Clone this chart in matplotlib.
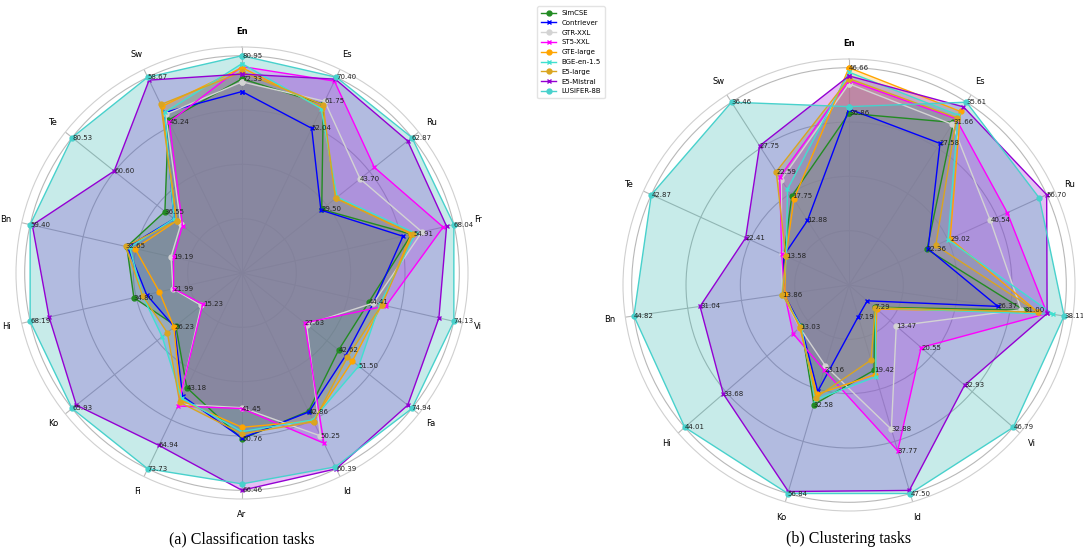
import numpy as np
import matplotlib
matplotlib.use("Agg")
import matplotlib.pyplot as plt

models = ["SimCSE", "Contriever", "GTR-XXL", "ST5-XXL", "GTE-large",
          "BGE-en-1.5", "E5-large", "E5-Mistral", "LUSIFER-8B"]
colors = ["forestgreen", "blue", "lightgray", "magenta", "orange",
          "turquoise", "goldenrod", "darkviolet", "mediumturquoise"]
fill_colors = ["forestgreen", "blue", "lightgray", "magenta", "orange",
               "turquoise", "goldenrod", "darkviolet", "lightseagreen"]
markers = ["o", "x", "o", "x", "o", "x", "o", "x", "o"]

# (a) classification
cls_langs = ["En", "Es", "Ru", "Fr", "Vi", "Fa", "Id", "Ar", "Fi", "Ko", "Hi", "Bn", "Te", "Sw"]
cls_simcse = [72.33, 60.70, 29.50, 54.43, 44.41, 42.62, 42.60, 50.76, 43.18, 25.70, 34.80, 32.30, 36.55, 45.80]
cls_contriever = [67.60, 52.04, 29.20, 51.70, 46.00, 45.70, 42.86, 50.50, 46.40, 26.23, 30.70, 32.10, 32.20, 48.10]
cls_gtr = [71.20, 61.75, 43.70, 57.80, 46.00, 28.50, 50.25, 41.20, 49.40, 15.80, 22.20, 19.90, 29.00, 47.50]
cls_st5 = [76.90, 69.00, 49.00, 64.60, 50.40, 27.63, 52.50, 41.45, 50.10, 15.23, 21.99, 19.19, 28.20, 45.24]
cls_gte = [76.50, 59.50, 34.90, 54.40, 48.90, 48.70, 45.60, 47.20, 47.90, 26.40, 26.60, 30.00, 31.00, 49.90]
cls_bge = [78.00, 59.10, 35.20, 55.80, 48.20, 51.50, 45.30, 48.50, 47.20, 31.00, 32.00, 31.50, 32.20, 48.10]
cls_e5 = [74.90, 60.50, 34.60, 54.91, 48.90, 46.50, 45.90, 49.20, 48.70, 29.00, 32.00, 32.65, 31.00, 50.50]
cls_mistral = [74.10, 69.70, 61.30, 65.70, 68.90, 73.10, 60.39, 66.46, 64.94, 64.30, 62.10, 58.80, 60.60, 57.80]
cls_lusifer = [80.95, 70.40, 62.87, 68.04, 74.13, 74.94, 59.80, 64.50, 73.73, 65.93, 68.19, 59.40, 80.53, 58.67]
cls_notes = [("En", "LUSIFER-8B"), ("En", "SimCSE"), ("Es", "LUSIFER-8B"), ("Es", "GTR-XXL"),
             ("Es", "Contriever"), ("Ru", "LUSIFER-8B"), ("Ru", "GTR-XXL"), ("Ru", "SimCSE"),
             ("Fr", "LUSIFER-8B"), ("Fr", "E5-large"), ("Vi", "LUSIFER-8B"), ("Vi", "SimCSE"),
             ("Fa", "LUSIFER-8B"), ("Fa", "BGE-en-1.5"), ("Fa", "SimCSE"), ("Fa", "ST5-XXL"),
             ("Id", "E5-Mistral"), ("Id", "GTR-XXL"), ("Id", "Contriever"), ("Ar", "E5-Mistral"),
             ("Ar", "SimCSE"), ("Ar", "ST5-XXL"), ("Fi", "LUSIFER-8B"), ("Fi", "E5-Mistral"),
             ("Fi", "SimCSE"), ("Ko", "LUSIFER-8B"), ("Ko", "Contriever"), ("Ko", "ST5-XXL"),
             ("Hi", "LUSIFER-8B"), ("Hi", "SimCSE"), ("Hi", "ST5-XXL"), ("Bn", "LUSIFER-8B"),
             ("Bn", "E5-large"), ("Bn", "ST5-XXL"), ("Te", "LUSIFER-8B"), ("Te", "E5-Mistral"),
             ("Te", "SimCSE"), ("Sw", "LUSIFER-8B"), ("Sw", "ST5-XXL")]

# (b) clustering
clu_langs = ["En", "Es", "Ru", "Fr", "Vi", "Id", "Ko", "Hi", "Bn", "Te", "Sw"]
clu_simcse = [36.86, 31.66, 22.36, 31.00, 7.29, 19.42, 32.58, 12.80, 13.90, 14.10, 17.75]
clu_contriever = [37.80, 27.58, 22.70, 26.37, 5.20, 7.19, 29.00, 12.80, 13.50, 14.10, 12.88]
clu_gtr = [43.20, 31.30, 40.54, 30.50, 13.47, 32.88, 22.00, 13.20, 13.90, 14.60, 21.00]
clu_st5 = [43.90, 32.40, 45.40, 35.10, 20.55, 37.77, 23.16, 15.00, 13.40, 14.60, 21.50]
clu_gte = [46.66, 33.80, 29.02, 33.50, 7.90, 20.40, 29.80, 13.20, 13.40, 13.70, 17.10]
clu_bge = [45.70, 33.10, 28.40, 36.20, 7.50, 20.90, 31.30, 12.80, 13.90, 13.58, 19.10]
clu_e5 = [44.30, 32.60, 24.90, 33.50, 7.50, 17.10, 30.70, 13.03, 13.86, 13.70, 22.59]
clu_mistral = [44.90, 34.70, 56.70, 35.10, 32.93, 46.80, 56.30, 33.68, 31.04, 22.41, 27.75]
clu_lusifer = [38.30, 35.61, 54.60, 38.11, 46.79, 47.50, 56.84, 44.01, 44.82, 42.87, 36.46]
clu_notes = [("En", "GTE-large"), ("En", "SimCSE"), ("Es", "LUSIFER-8B"), ("Es", "SimCSE"),
             ("Es", "Contriever"), ("Ru", "E5-Mistral"), ("Ru", "GTR-XXL"), ("Ru", "GTE-large"),
             ("Ru", "SimCSE"), ("Fr", "LUSIFER-8B"), ("Fr", "SimCSE"), ("Fr", "Contriever"),
             ("Vi", "LUSIFER-8B"), ("Vi", "E5-Mistral"), ("Vi", "ST5-XXL"), ("Vi", "GTR-XXL"),
             ("Vi", "SimCSE"), ("Id", "LUSIFER-8B"), ("Id", "ST5-XXL"), ("Id", "GTR-XXL"),
             ("Id", "SimCSE"), ("Id", "Contriever"), ("Ko", "LUSIFER-8B"), ("Ko", "SimCSE"),
             ("Ko", "ST5-XXL"), ("Hi", "LUSIFER-8B"), ("Hi", "E5-Mistral"), ("Hi", "E5-large"),
             ("Bn", "LUSIFER-8B"), ("Bn", "E5-Mistral"), ("Bn", "E5-large"), ("Te", "LUSIFER-8B"),
             ("Te", "E5-Mistral"), ("Te", "BGE-en-1.5"), ("Sw", "LUSIFER-8B"), ("Sw", "E5-Mistral"),
             ("Sw", "E5-large"), ("Sw", "SimCSE"), ("Sw", "Contriever")]


def radar(ax, langs, table, notes):
    n = len(langs)
    ang = np.linspace(0, 2 * np.pi, n, endpoint=False)
    vals = np.array(table)
    norm = vals / vals.max(axis=0)
    a = np.append(ang, ang[0])
    for i, m in enumerate(models):
        r = np.append(norm[i], norm[i][0])
        ax.plot(a, r, color=colors[i], marker=markers[i], lw=1.0, ms=3.5,
                mew=1.0, label=m, zorder=3)
        ax.fill(a, r, color=fill_colors[i], alpha=0.25, lw=0, zorder=2)
    for lang, m in notes:
        j = langs.index(lang)
        i = models.index(m)
        ax.text(ang[j], norm[i][j], f"{vals[i][j]:.2f}", fontsize=5,
                ha="left", va="center", color="#222222", zorder=5)
    ax.set_theta_offset(np.pi / 2)
    ax.set_theta_direction(-1)
    ax.set_xticks(ang)
    ax.set_xticklabels(langs, fontsize=6)
    ax.get_xticklabels()[0].set_fontweight("bold")
    ax.set_ylim(0, 1.04)
    ax.set_yticks([0.25, 0.5, 0.75, 1.0])
    ax.set_yticklabels([])
    ax.grid(color="#b8b8b8", lw=0.8)
    ax.spines["polar"].set_color("#d0d0d0")
    ax.tick_params(axis="x", pad=1)


fig = plt.figure(figsize=(10.83, 5.57), dpi=100)
ax1 = fig.add_axes([16 / 1083, 58 / 557, 452 / 1083, 452 / 557], projection="polar")
ax2 = fig.add_axes([623 / 1083, 46 / 557, 452 / 1083, 452 / 557], projection="polar")

radar(ax1, cls_langs, [cls_simcse, cls_contriever, cls_gtr, cls_st5, cls_gte,
                       cls_bge, cls_e5, cls_mistral, cls_lusifer], cls_notes)
radar(ax2, clu_langs, [clu_simcse, clu_contriever, clu_gtr, clu_st5, clu_gte,
                       clu_bge, clu_e5, clu_mistral, clu_lusifer], clu_notes)

handles, labels = ax1.get_legend_handles_labels()
fig.legend(handles, labels, loc="upper left", bbox_to_anchor=(534 / 1083, 1 - 3 / 557),
           fontsize=5, frameon=True, edgecolor="#dddddd", handlelength=2.2,
           labelspacing=0.55, borderpad=0.5)

fig.text(242 / 1083, 1 - 539 / 557, "(a) Classification tasks", ha="center", va="center",
         fontsize=11.5, family="Liberation Serif")
fig.text(849 / 1083, 1 - 539 / 557, "(b) Clustering tasks", ha="center", va="center",
         fontsize=11.5, family="Liberation Serif")

fig.savefig("out.png", dpi=100)
